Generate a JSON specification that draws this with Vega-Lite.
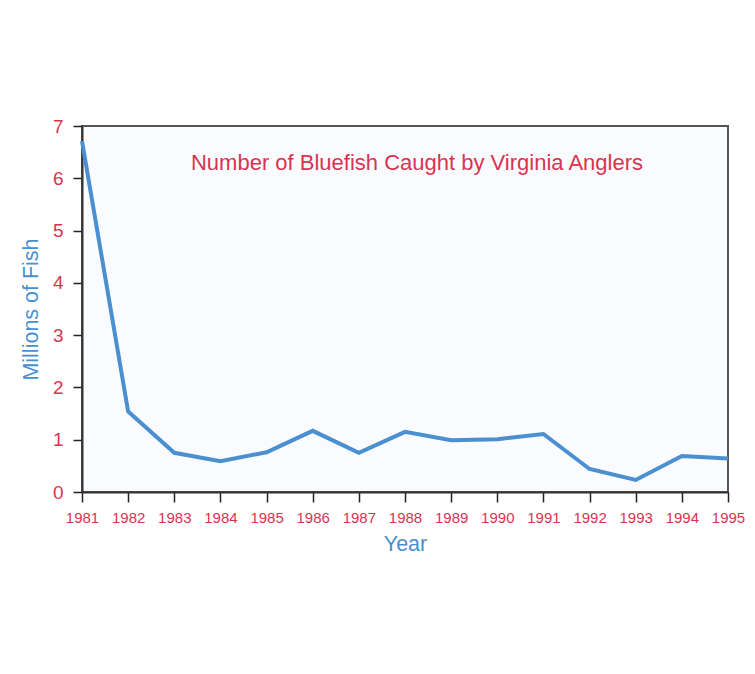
{
  "$schema": "https://vega.github.io/schema/vega-lite/v6.json",
  "autosize": "none",
  "width": 646,
  "height": 366,
  "padding": {"left": 82, "top": 126, "right": 27, "bottom": 182},
  "background": "#ffffff",
  "title": {
    "text": "Number of Bluefish Caught by Virginia Anglers",
    "orient": "top",
    "anchor": "middle",
    "offset": -58,
    "dx": 12,
    "font": "Liberation Sans",
    "fontSize": 22,
    "fontWeight": "normal",
    "color": "#d9344f"
  },
  "data": {
    "values": [
      {"year": 1981, "fish": 6.71},
      {"year": 1982, "fish": 1.54},
      {"year": 1983, "fish": 0.75},
      {"year": 1984, "fish": 0.59},
      {"year": 1985, "fish": 0.76},
      {"year": 1986, "fish": 1.17},
      {"year": 1987, "fish": 0.75},
      {"year": 1988, "fish": 1.15},
      {"year": 1989, "fish": 0.99},
      {"year": 1990, "fish": 1.01},
      {"year": 1991, "fish": 1.11},
      {"year": 1992, "fish": 0.44},
      {"year": 1993, "fish": 0.23},
      {"year": 1994, "fish": 0.69},
      {"year": 1995, "fish": 0.64}
    ]
  },
  "mark": {"type": "line", "color": "#4a8fd0", "strokeWidth": 4, "strokeJoin": "miter"},
  "encoding": {
    "x": {
      "field": "year",
      "type": "quantitative",
      "scale": {"domain": [1981, 1995], "nice": false, "zero": false},
      "axis": {
        "title": "Year",
        "values": [1981,1982,1983,1984,1985,1986,1987,1988,1989,1990,1991,1992,1993,1994,1995],
        "format": "d",
        "grid": false,
        "labelFontSize": 15,
        "labelPadding": 8,
        "labelFlush": false,
        "tickSize": 10,
        "titleFontSize": 21.5,
        "titlePadding": 8
      }
    },
    "y": {
      "field": "fish",
      "type": "quantitative",
      "scale": {"domain": [0, 7], "nice": false},
      "axis": {
        "title": "Millions of Fish",
        "values": [0,1,2,3,4,5,6,7],
        "grid": false,
        "labelFontSize": 19,
        "labelPadding": 10,
        "labelFlush": false,
        "tickSize": 9,
        "titleFontSize": 21.5,
        "titlePadding": 10
      }
    }
  },
  "config": {
    "font": "Liberation Sans",
    "view": {"fill": "#f9fbfe", "stroke": "#555555", "strokeWidth": 2},
    "axis": {
      "domainColor": "#333333",
      "domainWidth": 2,
      "tickColor": "#222222",
      "tickWidth": 1.5,
      "labelColor": "#d9344f",
      "labelFont": "Liberation Sans",
      "titleColor": "#4a8fd0",
      "titleFont": "Liberation Sans",
      "titleFontWeight": "normal"
    }
  }
}
